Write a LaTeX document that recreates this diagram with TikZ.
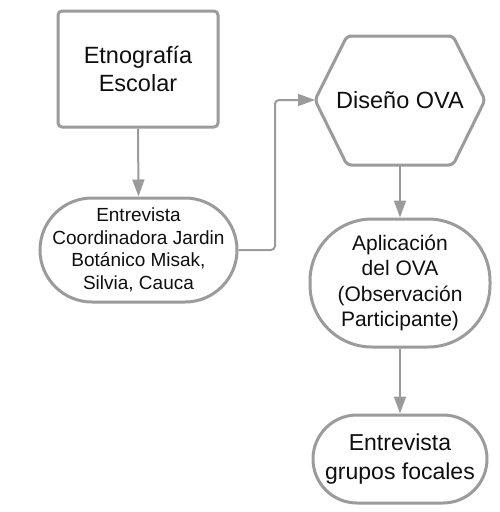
\documentclass[tikz,border=0pt]{standalone}
\usepackage{fontspec}
\setmainfont{Liberation Sans}
\usetikzlibrary{arrows.meta}
\definecolor{edgegray}{RGB}{155,155,155}
\definecolor{txt}{RGB}{15,15,15}
\begin{document}
\begin{tikzpicture}[x=1pt,y=-1pt,
  shapebox/.style={draw=edgegray,line width=3pt,fill=white,text=txt,align=center,inner sep=0pt},
  conn/.style={draw=edgegray,line width=2pt,-{Triangle[length=17pt,width=12pt]}},
  bigfont/.style={font=\fontsize{23.5}{28}\selectfont}]
\useasboundingbox (0,0) rectangle (500,512);
% Etnografia escolar
\node[shapebox,bigfont,rectangle,rounded corners=4pt,minimum width=160pt,minimum height=116pt] (etno) at (138,69) {Etnografía\\Escolar};
% Entrevista coordinadora
\node[shapebox,rectangle,rounded corners=52pt,minimum width=197pt,minimum height=104pt,font=\fontsize{19}{22.5}\selectfont] (coord) at (138.5,250) {Entrevista\\Coordinadora Jardin\\Botánico Misak,\\Silvia, Cauca};
% Hexagon
\coordinate (hl) at (315,100);
\coordinate (ht1) at (347,36);
\coordinate (ht2) at (453,36);
\coordinate (hr) at (485,100);
\coordinate (hb2) at (453,165);
\coordinate (hb1) at (347,165);
\coordinate (hbot) at (400,165);
\draw[draw=edgegray,line width=3pt,fill=white,rounded corners=4pt,line join=round] (hl) -- (ht1) -- (ht2) -- (hr) -- (hb2) -- (hb1) -- cycle;
\node[text=txt,bigfont,inner sep=0pt] (diseno) at (400,100) {Diseño OVA};
% Aplicacion
\node[shapebox,rectangle,rounded corners=62pt,minimum width=180pt,minimum height=128pt,font=\fontsize{21}{25.5}\selectfont] (aplic) at (400,283) {Aplicación\\del OVA\\(Observación\\Participante)};
% Entrevista grupos focales
\node[shapebox,rectangle,rounded corners=44pt,minimum width=174pt,minimum height=88pt,font=\fontsize{23}{29}\selectfont] (grupos) at (400,459) {Entrevista\\grupos focales};
% connectors
\draw[conn] (etno.south) -- (coord.north);
\draw[conn,rounded corners=4pt] (coord.east) -- (275,250) -- (275,100) -- (hl);
\draw[conn] (hbot) -- (aplic.north);
\draw[conn] (aplic.south) -- (grupos.north);
\end{tikzpicture}
\end{document}
